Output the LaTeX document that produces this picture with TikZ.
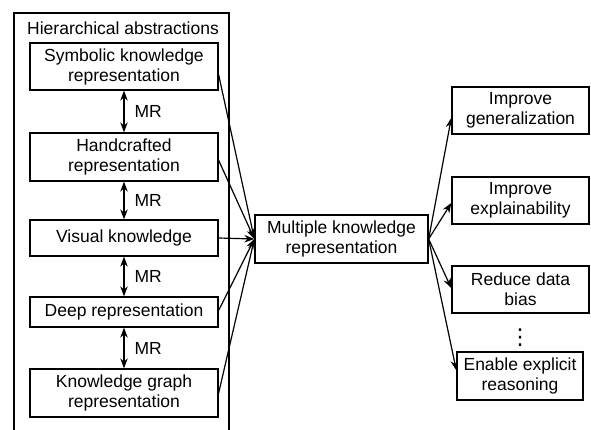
\documentclass[tikz,border=0pt]{standalone}
\usepackage{fontspec}
\setmainfont{Liberation Sans}
\newfontfamily\symfont{DejaVu Sans}
\usetikzlibrary{arrows.meta}

\begin{document}
\begin{tikzpicture}[x=1pt, y=-1pt,
		box/.style={draw, line width=1.3pt, align=center, inner sep=0pt, font=\fontsize{17.5}{20}\selectfont},
		link/.style={line width=1.2pt, -{Stealth[length=10pt, width=7.5pt]}},
		both/.style={line width=1.2pt, {Stealth[length=10pt, width=7.5pt]}-{Stealth[length=10pt, width=7.5pt]}},
		lbl/.style={font=\fontsize{17.5}{20}\selectfont, inner sep=0pt}]
		\useasboundingbox (0,0) rectangle (591,430);
		\draw[line width=1.3pt] (14,13) rectangle (229,440);
		\node[lbl] (title) at (123,28) {Hierarchical abstractions};
		% left column
		\node[box, minimum width=188pt, minimum height=47pt] (sym) at (124,66.5) {Symbolic knowledge\\representation};
		\node[box, minimum width=188pt, minimum height=48pt] (hand) at (124,157) {Handcrafted\\representation};
		\node[box, minimum width=188pt, minimum height=36pt] (vis) at (124,238) {Visual knowledge};
		\node[box, minimum width=188pt, minimum height=30pt] (deep) at (124,312) {Deep representation};
		\node[box, minimum width=188pt, minimum height=48pt] (kg) at (124,393) {Knowledge graph\\representation};
		\draw[both] (sym) -- node[lbl, right=10pt] (mr1) {MR} (hand);
		\draw[both] (hand) -- node[lbl, right=10pt] (mr2) {MR} (vis);
		\draw[both] (vis) -- node[lbl, right=10pt] (mr3) {MR} (deep);
		\draw[both] (deep) -- node[lbl, right=10pt] (mr4) {MR} (kg);
		% middle
		\node[box, minimum width=173pt, minimum height=48pt] (multi) at (341.5,239) {Multiple knowledge\\representation};
		\draw[link] (sym.-5) -- (multi.west);
		\draw[link] (hand.-2) -- (multi.west);
		\draw[link] (vis.east) -- (multi.west);
		\draw[link] (deep.1) -- (multi.west);
		\draw[link] (kg.east) -- (multi.west);
		% right column
		\node[box, minimum width=137pt, minimum height=47pt] (gen) at (520.5,110.5) {Improve\\generalization};
		\node[box, minimum width=137pt, minimum height=47pt] (expl) at (520.5,200.5) {Improve\\explainability};
		\node[box, minimum width=137pt, minimum height=47pt] (bias) at (520.5,289.5) {Reduce data\\bias};
		\node[inner sep=0pt, font=\symfont\fontsize{22}{22}\selectfont] (dots) at (520,338) {⋮};
		\node[box, minimum width=126pt, minimum height=48pt] (reas) at (520,376) {Enable explicit\\reasoning};
		\draw[link] (multi.east) -- (gen.186);
		\draw[link] (multi.east) -- (expl.182);
		\draw[link] (multi.east) -- (bias.179);
		\draw[link] (multi.east) -- (reas.175);
	\end{tikzpicture}
\end{document}
